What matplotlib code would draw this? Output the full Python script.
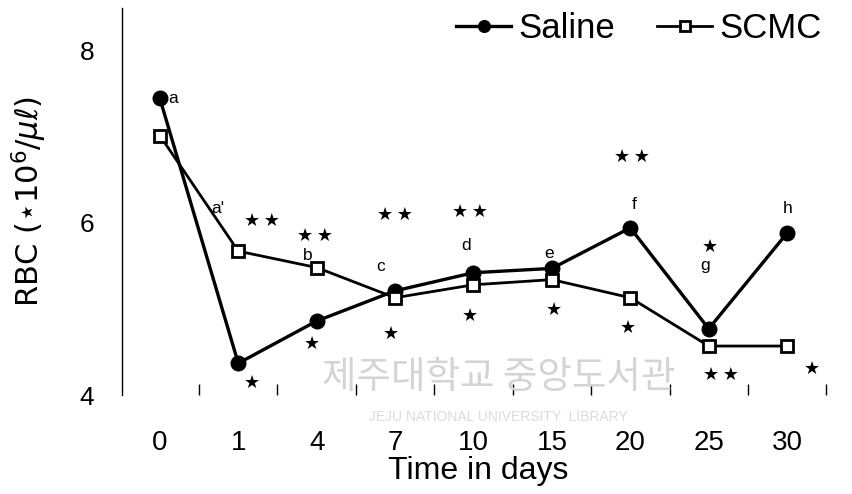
import matplotlib
matplotlib.use("Agg")
import matplotlib.pyplot as plt
import matplotlib.ticker as mticker

plt.rcParams["font.family"] = ["Liberation Sans", "DejaVu Sans"]

# Data
days = ["0", "1", "4", "7", "10", "15", "20", "25", "30"]
saline = [7.44, 4.37, 4.86, 5.21, 5.42, 5.47, 5.94, 4.77, 5.88]
scmc = [7.01, 5.67, 5.48, 5.13, 5.28, 5.34, 5.13, 4.57, 4.57]

# letter labels: (position, y, text)
letter_x = [0.17, 0.74, 1.89, 2.81, 3.90, 4.96, 6.05, 6.95, 8.01]
letter_y = [7.44, 6.16, 5.62, 5.49, 5.74, 5.64, 6.21, 5.50, 6.17]
letters = ["a", "a'", "b", "c", "d", "e", "f", "g", "h"]

# significance stars
star_x = [1.30, 1.98, 3.00, 3.95, 6.02, 1.17, 1.94, 2.95, 3.95, 5.03, 5.97, 7.02, 7.16, 8.32]
star_y = [6.02, 5.85, 6.09, 6.13, 6.76, 4.14, 4.59, 4.71, 4.92, 4.99, 4.78, 5.72, 4.24, 4.31]
stars = ["★\u2009★", "★\u2009★", "★\u2009★", "★\u2009★", "★\u2009★", "★", "★", "★", "★",
         "★", "★", "★", "★\u2009★", "★"]

x = list(range(len(days)))

fig = plt.figure(figsize=(8.52, 4.94), dpi=100)
ax = fig.add_axes([0.143, 0.2, 0.837, 0.784])

# faint library watermark from the scan
fig.text(0.585, 0.235, "제주대학교 중앙도서관", family=["Noto Sans CJK KR"],
         fontsize=27, color="#d4d4d4", ha="center", va="center", zorder=0)
fig.text(0.585, 0.155, "JEJU NATIONAL UNIVERSITY  LIBRARY", family=["Liberation Sans"],
         fontsize=10, color="#dcdcdc", ha="center", va="center", zorder=0)

ax.plot(x, saline, color="black", lw=2.4, marker="o", ms=10.5,
        mfc="black", mec="black", label="Saline", zorder=3)
ax.plot(x, scmc, color="black", lw=2.0, marker="s", ms=8.5,
        mfc="white", mec="black", mew=2, label="SCMC", zorder=4)

for lx, ly, t in zip(letter_x, letter_y, letters):
    ax.text(lx, ly, t, fontsize=12.5, ha="center", va="center")
for sx, sy, t in zip(star_x, star_y, stars):
    ax.text(sx, sy, t, fontsize=13, ha="center", va="center", family=["DejaVu Sans"])

ax.set_xlim(-0.485, 8.61)
ax.set_ylim(4, 8.49)
ax.set_xticks(x)
ax.set_xticklabels(days)
ax.xaxis.set_minor_locator(mticker.FixedLocator([i + 0.5 for i in x]))
ax.tick_params(axis="x", which="major", length=0, pad=25, labelsize=20)
ax.tick_params(axis="x", which="minor", direction="in", length=8, width=1.0)
ax.set_yticks([4, 6, 8])
ax.tick_params(axis="y", length=0, pad=20, labelsize=19)

for side in ["top", "right", "bottom"]:
    ax.spines[side].set_visible(False)
ax.spines["left"].set_linewidth(1.0)

ax.set_xlabel("Time in days", fontsize=23, labelpad=0)
ax.set_ylabel("RBC (⋆10$^6$/$\\mu\\ell$)", fontsize=22, labelpad=22,
              family=["DejaVu Sans"])

ax.legend(loc="upper right", bbox_to_anchor=(1.025, 1.07), ncol=2, frameon=False,
          fontsize=25, handlelength=1.6, handletextpad=0.2, columnspacing=1.2,
          markerscale=0.8)

fig.savefig("out.png", dpi=100)
